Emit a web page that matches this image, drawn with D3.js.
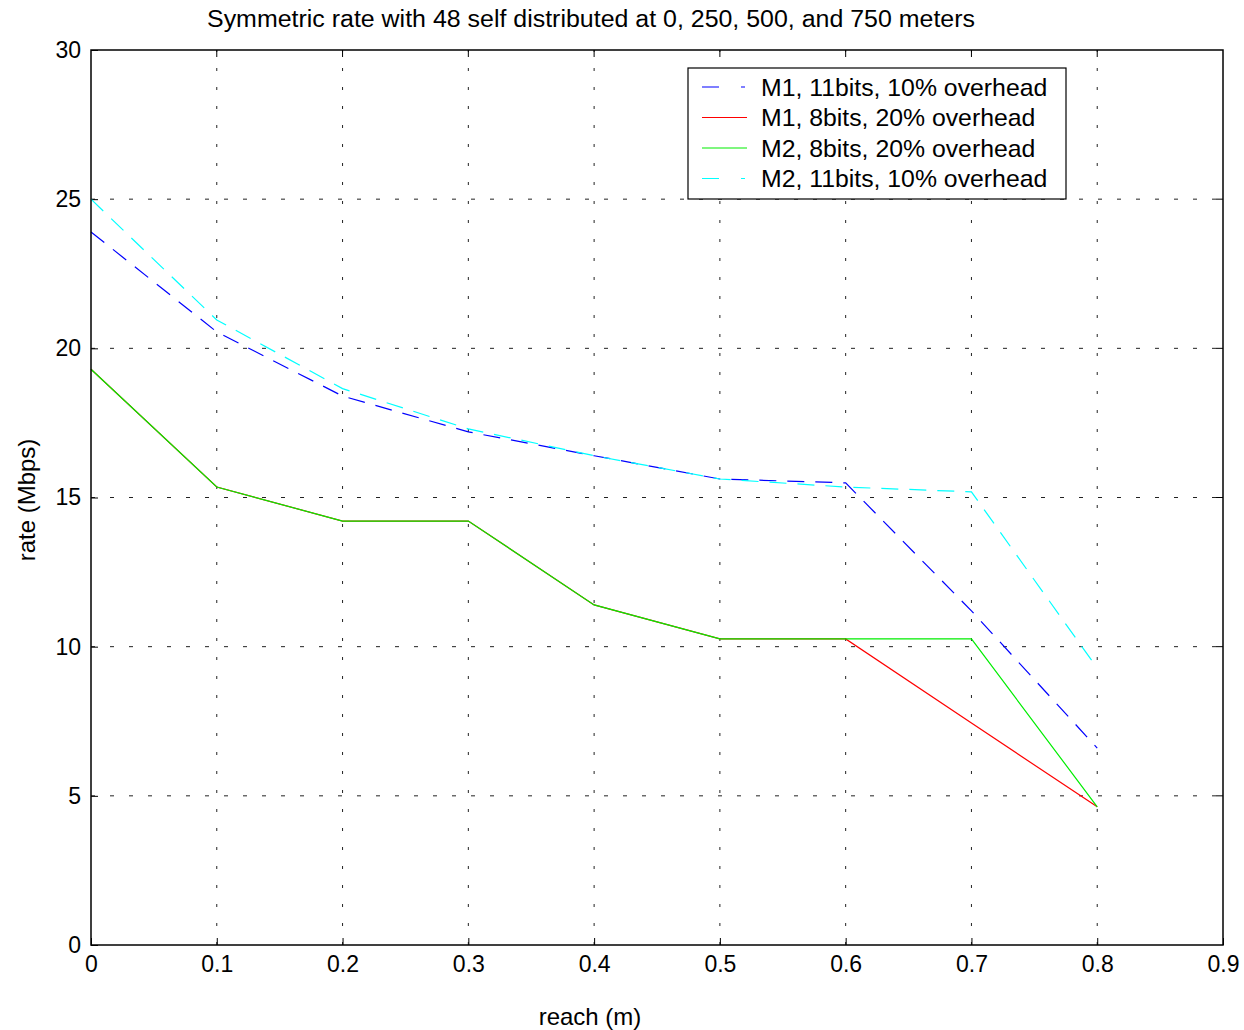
<!DOCTYPE html>
<html>
<head>
<meta charset="utf-8">
<script src="https://cdn.jsdelivr.net/npm/d3@7"></script>
<style>
  html, body { margin: 0; padding: 0; background: #fff; }
  svg { display: block; font-family: "Liberation Sans", Arial, sans-serif; }
</style>
</head>
<body>
<svg id="chart" width="1244" height="1030"></svg>
<script>
const reach = [0, 0.1, 0.2, 0.3, 0.4, 0.5, 0.6, 0.7, 0.8];
const m1_11bits = [23.9, 20.55, 18.4, 17.2, 16.4, 15.62, 15.49, 11.2, 6.6];
const m1_8bits = [19.3, 15.35, 14.21, 14.21, 11.4, 10.26, 10.26, 7.44, 4.63];
const m2_8bits = [19.3, 15.35, 14.21, 14.21, 11.4, 10.26, 10.26, 10.26, 4.63];
const m2_11bits = [25.0, 20.95, 18.65, 17.3, 16.4, 15.62, 15.35, 15.19, 9.28];
const seriesNames = ["M1, 11bits, 10% overhead", "M1, 8bits, 20% overhead", "M2, 8bits, 20% overhead", "M2, 11bits, 10% overhead"];
const xTicks = [0, 0.1, 0.2, 0.3, 0.4, 0.5, 0.6, 0.7, 0.8, 0.9];
const yTicks = [0, 5, 10, 15, 20, 25, 30];
const titleText = "Symmetric rate with 48 self distributed at 0, 250, 500, and 750 meters";
const xLabel = "reach (m)";
const yLabel = "rate (Mbps)";

const series = [
  { name: seriesNames[0], values: m1_11bits, color: "#0000ff", dash: "17,11" },
  { name: seriesNames[1], values: m1_8bits, color: "#ff0000", dash: null },
  { name: seriesNames[2], values: m2_8bits, color: "#00ee00", dash: null },
  { name: seriesNames[3], values: m2_11bits, color: "#00ffff", dash: "17,11" }
];

const svg = d3.select("#chart");
const L = 91, R = 1223, T = 50, B = 945;
const x = d3.scaleLinear().domain([0, 0.9]).range([L, R]);
const y = d3.scaleLinear().domain([0, 30]).range([B, T]);

// grid
const grid = svg.append("g");
xTicks.slice(1, -1).forEach(t => {
  grid.append("line").attr("x1", x(t)).attr("x2", x(t)).attr("y1", B).attr("y2", T)
    .attr("stroke", "#222").attr("stroke-width", 1).attr("stroke-dasharray", "3,16");
});
yTicks.slice(1, -1).forEach(t => {
  grid.append("line").attr("x1", L).attr("x2", R).attr("y1", y(t)).attr("y2", y(t))
    .attr("stroke", "#222").attr("stroke-width", 1).attr("stroke-dasharray", "4,15");
});

// axes
const xAxis = d3.axisBottom(x).tickValues(xTicks).tickFormat(d => d === 0 ? "0" : d3.format(".1f")(d)).tickSizeInner(-7).tickSizeOuter(0).tickPadding(11);
const yAxis = d3.axisLeft(y).tickValues(yTicks).tickFormat(d3.format("d")).tickSizeInner(-7).tickSizeOuter(0).tickPadding(10);
const gx = svg.append("g").attr("transform", `translate(0,${B})`).call(xAxis);
const gy = svg.append("g").attr("transform", `translate(${L},0)`).call(yAxis);
[gx, gy].forEach(g => {
  g.select(".domain").remove();
  g.selectAll("line").attr("stroke", "#000");
  g.selectAll("text").attr("font-size", 23).attr("fill", "#000").attr("font-family", "Liberation Sans, Arial, sans-serif");
});
gx.selectAll("text").attr("dy", "0.71em");
// top/right ticks
const gt = svg.append("g");
xTicks.slice(1, -1).forEach(t => gt.append("line").attr("x1", x(t)).attr("x2", x(t)).attr("y1", T).attr("y2", T + 7).attr("stroke", "#000"));
yTicks.slice(1, -1).forEach(t => gt.append("line").attr("x1", R).attr("x2", R - 7).attr("y1", y(t)).attr("y2", y(t)).attr("stroke", "#000"));

// lines
const line = d3.line().x((d, i) => x(reach[i])).y(d => y(d));
series.forEach(s => {
  svg.append("path").datum(s.values).attr("d", line)
    .attr("fill", "none").attr("stroke", s.color).attr("stroke-width", 1.2)
    .attr("stroke-dasharray", s.dash);
});

// box
svg.append("rect").attr("x", L).attr("y", T).attr("width", R - L).attr("height", B - T)
  .attr("fill", "none").attr("stroke", "#000").attr("stroke-width", 1.5);

// legend
const lg = svg.append("g");
lg.append("rect").attr("x", 688).attr("y", 68).attr("width", 378).attr("height", 131)
  .attr("fill", "#fff").attr("stroke", "#000").attr("stroke-width", 1.2);
series.forEach((s, i) => {
  const yy = 87 + i * 30.5;
  lg.append("line").attr("x1", 702).attr("x2", 747).attr("y1", yy).attr("y2", yy)
    .attr("stroke", s.color).attr("stroke-width", 1.2).attr("stroke-dasharray", s.dash ? "17,22,4,10" : null);
  lg.append("text").attr("x", 761).attr("y", yy).attr("dy", "0.36em")
    .attr("font-size", 24.8).attr("fill", "#000").text(s.name);
});

// title & labels
svg.append("text").attr("x", 591).attr("y", 19).attr("dy", "0.35em").attr("text-anchor", "middle")
  .attr("font-size", 23).attr("textLength", 768).attr("lengthAdjust", "spacingAndGlyphs").text(titleText);
svg.append("text").attr("x", 590).attr("y", 1017).attr("dy", "0.35em").attr("text-anchor", "middle")
  .attr("font-size", 24).text(xLabel);
svg.append("text").attr("transform", "translate(27,500) rotate(-90)").attr("dy", "0.35em").attr("text-anchor", "middle")
  .attr("font-size", 24).text(yLabel);
</script>
</body>
</html>
